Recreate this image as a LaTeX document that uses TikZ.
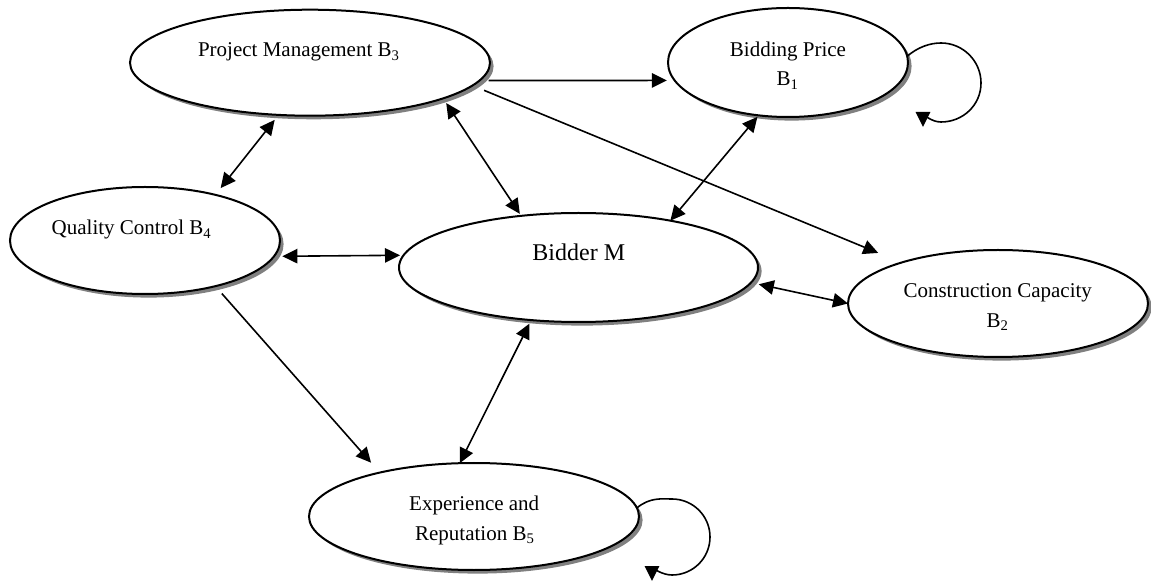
\documentclass[tikz,border=0pt]{standalone}
\usepackage{fontspec}
\setmainfont{Liberation Serif}
\usetikzlibrary{shapes.geometric,shadows,arrows.meta}
\begin{document}
\begin{tikzpicture}[x=0.5pt,y=-0.5pt,
  bub/.style={ellipse, draw=black, line width=1pt, fill=white, inner sep=0pt, outer sep=0pt,
    drop shadow={shadow xshift=1.8pt, shadow yshift=-1.8pt, fill=gray, opacity=1}},
  lbl/.style={font=\fontsize{10.5}{12}\selectfont, inner sep=0pt, anchor=base},
  big/.style={font=\fontsize{12}{14}\selectfont, inner sep=0pt, anchor=base},
  con/.style={line width=0.8pt, -{Triangle[length=7.5pt,width=7.2pt]}},
  con2/.style={line width=0.8pt, {Triangle[length=7.5pt,width=7.2pt]}-{Triangle[length=7.5pt,width=7.2pt]}}]
\fill[white] (0,0) rectangle (1151,582);
\useasboundingbox (0,0) rectangle (1151,582);

\node[bub, minimum width=180pt, minimum height=53pt] (pm) at (310,62.7) {};
\node[bub, minimum width=120pt, minimum height=54.5pt] (bp) at (788,62.5) {};
\node[bub, minimum width=135pt, minimum height=53.5pt] (qc) at (145,240.5) {};
\node[bub, minimum width=179.5pt, minimum height=54.5pt] (bm) at (578.5,267.5) {};
\node[bub, minimum width=150pt, minimum height=53.5pt] (cc) at (998,303.5) {};
\node[bub, minimum width=165pt, minimum height=53.5pt] (er) at (474,516.5) {};

\node[lbl] (pmT) at (299,57) {Project Management B\textsubscript{3}};
\node[lbl] (qcT) at (131.7,235) {Quality Control B\textsubscript{4}};
\node[lbl] (bpT1) at (788,56.7) {Bidding Price};
\node[lbl] (bpT2) at (787.7,86) {B\textsubscript{1}};
\node[big] (bmT) at (578.8,261) {Bidder M};
\node[lbl] (ccT1) at (997.7,297.3) {Construction Capacity};
\node[lbl] (ccT2) at (997.7,327.3) {B\textsubscript{2}};
\node[lbl] (erT1) at (474.2,510) {Experience and};
\node[lbl] (erT2) at (475,540) {Reputation B\textsubscript{5}};

\draw[con, shorten <=4.5pt, shorten >=3.9pt] (pm.-6) -- (bp.189);
\draw[con, shorten <=6.3pt, shorten >=12.6pt] (pm.-8.3) -- (cc.157.1);
\draw[con2, shorten <=3.2pt, shorten >=4.3pt] (pm.239.4) -- (qc.33.3);
\draw[con2, shorten <=2.8pt, shorten >=1.2pt] (pm.-15.8) -- (bm.138.9);
\draw[con2, shorten <=1pt] (bp.241.5) -- (bm.27.3);
\draw[con2, shorten <=4.2pt, shorten >=1.8pt] (qc.-7.8) -- (bm.176.9);
\draw[con2, shorten <=4pt] (bm.-5.9) -- (cc.180);
\draw[con, shorten <=4.9pt, shorten >=6.6pt] (qc.-33.9) -- (er.155.7);
\draw[con2, shorten >=2pt] (er.105.7) -- (bm.228.3);

\draw[con] (bp.3.6) .. controls (918,47) and (930,43) .. (941,43)
  .. controls (963,43) and (981,61) .. (981,83)
  .. controls (981,105) and (963,122) .. (941,122)
  .. controls (932,122) and (923,115) .. (923,127);
\draw[con] (er.3) .. controls (650,497) and (662,499) .. (672,499)
  .. controls (693,499) and (710,516) .. (710,537)
  .. controls (710,558) and (693,575) .. (672,575)
  .. controls (662,575) and (652,568) .. (652,581);
\end{tikzpicture}
\end{document}
